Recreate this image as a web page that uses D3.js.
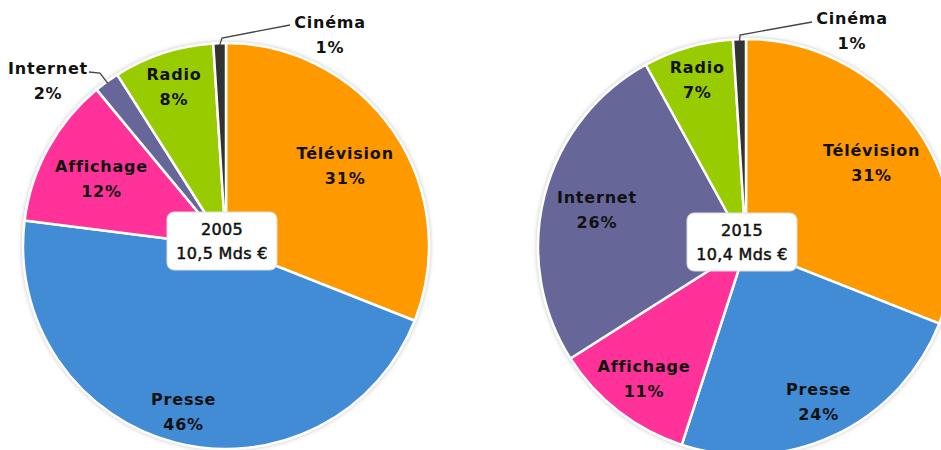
<!DOCTYPE html>
<html>
<head>
<meta charset="utf-8">
<script src="https://cdn.jsdelivr.net/npm/d3@7"></script>
<style>
  body { margin: 0; background: #fff; }
  svg { display: block; }
  text { font-family: "DejaVu Sans", Verdana, sans-serif; }
</style>
</head>
<body>
<svg width="941" height="450"></svg>
<script>
// media categories (clockwise from 12 o'clock)
const categories = ["Télévision", "Presse", "Affichage", "Internet", "Radio", "Cinéma"];
const values2005 = [31, 46, 12, 2, 8, 1];
const values2015 = [31, 24, 11, 26, 7, 1];
const years = ["2005", "2015"];
const totals = ["10,5 Mds €", "10,4 Mds €"];

const colors = ["#ff9900", "#428bd5", "#ff3399", "#666699", "#99cc00", "#333333"];

// layout per chart
const charts = [
  {
    values: values2005, year: years[0], total: totals[0],
    cx: 226, cy: 246, r: 203,
    // label radius as fraction of r, null = outside label
    labelR: [0.71, 0.84, 0.70, null, 0.83, null],
    outside: {
      3: { tx: 48, ty: 80, line: [[89, 72], [100, 73]] },
      5: { tx: 330, ty: 34, line: [[290, 25], [222, 38]] }
    }
  },
  {
    values: values2015, year: years[1], total: totals[1],
    cx: 746, cy: 247, r: 208,
    labelR: [0.73, 0.82, 0.80, 0.74, 0.84, null],
    outside: {
      5: { tx: 852, ty: 30, line: [[812, 22], [740, 35]] }
    }
  }
];

const svg = d3.select("svg");
const defs = svg.append("defs");
const shadow = defs.append("filter").attr("id", "shadow")
  .attr("x", "-10%").attr("y", "-10%").attr("width", "120%").attr("height", "120%");
shadow.append("feDropShadow")
  .attr("dx", 0).attr("dy", 0).attr("stdDeviation", 2)
  .attr("flood-color", "#999").attr("flood-opacity", 0.6);

const pie = d3.pie().sort(null).value(d => d);

charts.forEach(c => {
  const g = svg.append("g").attr("transform", `translate(${c.cx},${c.cy})`);
  const arcs = pie(c.values);
  const arc = d3.arc().innerRadius(0).outerRadius(c.r);

  g.append("g").attr("filter", "url(#shadow)")
    .selectAll("path")
    .data(arcs)
    .enter()
    .append("path")
    .attr("d", arc)
    .attr("fill", (d, i) => colors[i])
    .attr("stroke", "#fff")
    .attr("stroke-width", 2.5)
    .attr("stroke-linejoin", "round");

  // slice labels (name + percent)
  arcs.forEach((d, i) => {
    const f = c.labelR[i];
    const label = categories[i];
    const pct = c.values[i] + "%";
    let x, y;
    if (f !== null) {
      const a = (d.startAngle + d.endAngle) / 2;
      x = Math.sin(a) * c.r * f;
      y = -Math.cos(a) * c.r * f;
    } else {
      const o = c.outside[i];
      x = o.tx - c.cx;
      y = o.ty - c.cy;
      // leader line to the slice edge
      const a = (d.startAngle + d.endAngle) / 2;
      const edge = [Math.sin(a) * (c.r - 2), -Math.cos(a) * (c.r - 2)];
      const pts = o.line.map(p => [p[0] - c.cx, p[1] - c.cy]).concat([edge]);
      g.append("path")
        .attr("d", d3.line()(pts))
        .attr("fill", "none")
        .attr("stroke", "#444")
        .attr("stroke-width", 1.3);
    }
    const t = g.append("text")
      .attr("text-anchor", "middle")
      .attr("font-size", 16)
      .attr("font-weight", "bold")
      .attr("letter-spacing", 0.8)
      .attr("fill", "#111");
    t.append("tspan").attr("x", x).attr("y", y - 6).text(label);
    t.append("tspan").attr("x", x).attr("y", y + 19).text(pct);
  });

  // center box
  const bw = 110, bh = 58;
  g.append("rect")
    .attr("x", -bw / 2 - 4).attr("y", -bh / 2 - 5)
    .attr("width", bw).attr("height", bh)
    .attr("rx", 7)
    .attr("fill", "#fff")
    .attr("stroke", "#ddd")
    .attr("stroke-width", 1);
  const bt = g.append("text")
    .attr("text-anchor", "middle")
    .attr("font-size", 16)
    .attr("letter-spacing", 0.3)
    .attr("fill", "#111")
    .attr("stroke", "#111").attr("stroke-width", 0.5);
  bt.append("tspan").attr("x", -4).attr("y", -11).text(c.year);
  bt.append("tspan").attr("x", -4).attr("y", 13).text(c.total);
});
</script>
</body>
</html>
